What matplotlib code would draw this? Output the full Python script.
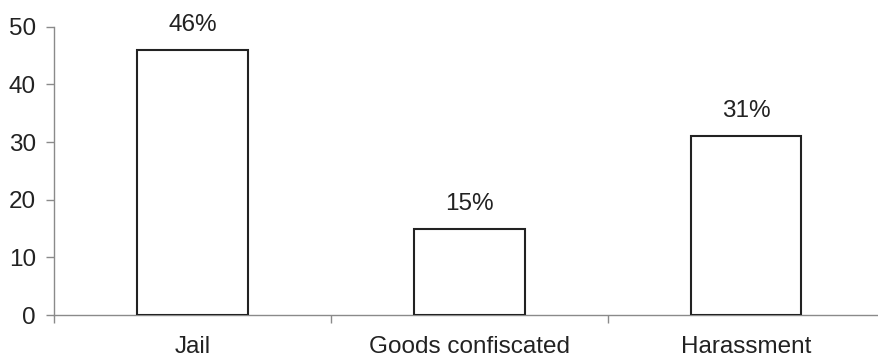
import matplotlib
matplotlib.use('Agg')
import matplotlib.pyplot as plt

categories = ['Jail', 'Goods confiscated', 'Harassment']
values = [46, 15, 31]
value_labels = ['46%', '15%', '31%']
yticks = [0, 10, 20, 30, 40, 50]


def main():
    plt.rcParams['font.family'] = ['Liberation Sans', 'DejaVu Sans']
    fig = plt.figure(figsize=(8.79, 3.60), dpi=100)
    # axes runs slightly past the right edge of the figure
    ax = fig.add_axes([54 / 879.0, 45 / 360.0, 830.5 / 879.0, 288.3 / 360.0])

    x = range(len(categories))
    bars = ax.bar(x, values, width=0.40, color='white', edgecolor='#222222',
                  linewidth=1.5, zorder=3)

    for b, lab in zip(bars, value_labels):
        ax.annotate(lab, (b.get_x() + b.get_width() / 2, b.get_height()),
                    xytext=(0, 10), textcoords='offset points',
                    ha='center', va='bottom', fontsize=17.5, color='#222222')

    ax.set_xlim(-0.5, len(categories) - 0.5)
    ax.set_ylim(0, 50)
    ax.set_yticks(yticks)
    ax.set_xticks(list(x))
    ax.set_xticklabels(categories)
    ax.set_xticks([i - 0.5 for i in range(len(categories) + 1)], minor=True)

    for s in ['top', 'right']:
        ax.spines[s].set_visible(False)
    for s in ['left', 'bottom']:
        ax.spines[s].set_color('#8a8a8a')
        ax.spines[s].set_linewidth(1.0)

    ax.tick_params(axis='y', length=6, width=1, color='#8a8a8a', pad=7,
                   labelsize=17.5, labelcolor='#222222')
    ax.tick_params(axis='x', which='major', length=0, pad=15,
                   labelsize=17.5, labelcolor='#222222')
    ax.tick_params(axis='x', which='minor', length=6, width=1, color='#8a8a8a')

    fig.savefig('out.png', dpi=100)


if __name__ == '__main__':
    main()
